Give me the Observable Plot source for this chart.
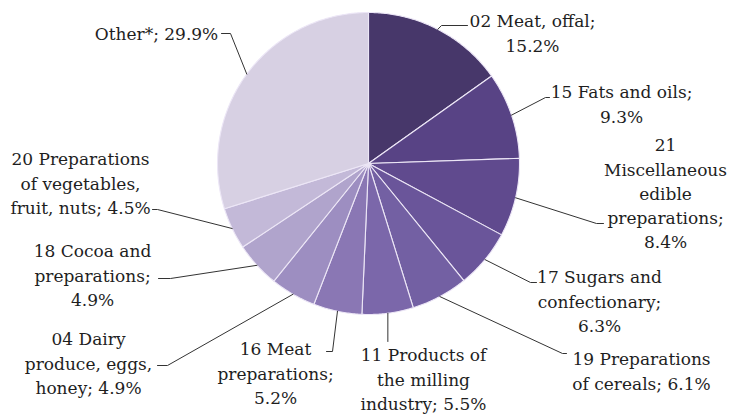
<!DOCTYPE html>
<html>
<head>
<meta charset="utf-8">
<script src="https://cdn.jsdelivr.net/npm/d3@7"></script>
<script src="https://cdn.jsdelivr.net/npm/@observablehq/plot@0.6"></script>
<style>
  html, body { margin: 0; padding: 0; background: #fff; }
  #chart svg { display: block; }
</style>
</head>
<body>
<div id="chart"></div>
<script>
// ---- data ----
const categories = [
  "02 Meat, offal", "15 Fats and oils", "21 Miscellaneous edible preparations",
  "17 Sugars and confectionary", "19 Preparations of cereals",
  "11 Products of the milling industry", "16 Meat preparations",
  "04 Dairy produce, eggs, honey", "18 Cocoa and preparations",
  "20 Preparations of vegetables, fruit, nuts", "Other*"
];
const shares = [15.2, 9.3, 8.4, 6.3, 6.1, 5.5, 5.2, 4.9, 4.9, 4.5, 29.9];
const labelLines = [
  ["02 Meat, offal;", "15.2%"],
  ["15 Fats and oils;", "9.3%"],
  ["21", "Miscellaneous", "edible", "preparations;", "8.4%"],
  ["17 Sugars and", "confectionary;", "6.3%"],
  ["19 Preparations", "of cereals; 6.1%"],
  ["11 Products of", "the milling", "industry; 5.5%"],
  ["16 Meat", "preparations;", "5.2%"],
  ["04 Dairy", "produce, eggs,", "honey; 4.9%"],
  ["18 Cocoa and", "preparations;", "4.9%"],
  ["20 Preparations", "of vegetables,", "fruit, nuts; 4.5%"],
  ["Other*; 29.9%"]
];

// ---- styling / layout (kept separate from data) ----
const palette = ["#47376a", "#584385", "#604a8e", "#6a559a", "#7360a3", "#7b67aa",
                 "#8a77b4", "#9d8ec1", "#b0a4cc", "#c3b9d8", "#d7d0e3"];
const W = 730, H = 417;
const cx = 368, cy = 163, R = 151;
const fontSize = 17, lineGap = 24.3;
// label block: centre x, first-line centre y
const labelPos = [
  [532, 19], [621, 90], [665, 143], [599, 275], [641, 357],
  [423, 353], [275, 347], [88, 337], [92, 249], [80, 157], [156, 32]
];
// leader bend points after the slice-edge point
const leaderBends = [
  [[441, 25], [467, 25]],
  [[545, 97], [549, 97]],
  [[596, 223], [603, 223]],
  [[530, 282], [536, 282]],
  [[562, 353], [566, 353]],
  [[null, 341]],
  [[332, 351], [326, 351]],
  [[167, 365], [157, 365]],
  [[170, 278], [158, 278]],
  [[157, 209], [152, 209]],
  [[230, 33], [221, 33]]
];

// ---- geometry from the data ----
const arcs = d3.pie().sort(null).value(d => d).startAngle(0).endAngle(2 * Math.PI)(shares);
const px = a => cx + R * Math.sin(a);
const py = a => cy - R * Math.cos(a);

const slicePts = [];
arcs.forEach((a, i) => {
  const cat = categories[i];
  slicePts.push({cat, x: cx, y: cy});
  const n = Math.max(4, Math.ceil((a.endAngle - a.startAngle) / 0.01));
  for (let k = 0; k <= n; k++) {
    const t = a.startAngle + (a.endAngle - a.startAngle) * k / n;
    slicePts.push({cat, x: px(t), y: py(t)});
  }
});

const leaderPts = [];
arcs.forEach((a, i) => {
  const cat = categories[i];
  const m = (a.startAngle + a.endAngle) / 2;
  const ex = px(m), ey = py(m);
  leaderPts.push({cat, x: ex, y: ey});
  leaderBends[i].forEach(([bx, by]) => leaderPts.push({cat, x: bx == null ? ex : bx, y: by}));
});

const labels = categories.map((cat, i) => {
  const lines = labelLines[i];
  return {
    cat,
    text: lines.join("\n"),
    x: labelPos[i][0],
    y: labelPos[i][1] + (lines.length - 1) * lineGap / 2
  };
});

const chart = Plot.plot({
  width: W,
  height: H,
  margin: 0,
  style: {background: "#fff", overflow: "visible"},
  x: {domain: [0, W], range: [0, W], axis: null},
  y: {domain: [0, H], range: [0, H], axis: null},
  color: {type: "ordinal", domain: categories, range: palette},
  marks: [
    Plot.line(slicePts, {
      x: "x", y: "y", z: "cat", fill: "cat",
      stroke: "#ece6f6", strokeWidth: 1.1, strokeLinejoin: "round",
      curve: "linear-closed"
    }),
    Plot.line(leaderPts, {
      x: "x", y: "y", z: "cat", stroke: "#333", strokeWidth: 1, curve: "linear"
    }),
    Plot.text(labels, {
      x: "x", y: "y", text: "text",
      fontSize, fontFamily: "DejaVu Serif",
      lineHeight: lineGap / fontSize,
      textAnchor: "middle", lineAnchor: "middle",
      fill: "#1e1e1e"
    })
  ]
});
document.getElementById("chart").appendChild(chart);
</script>
</body>
</html>
